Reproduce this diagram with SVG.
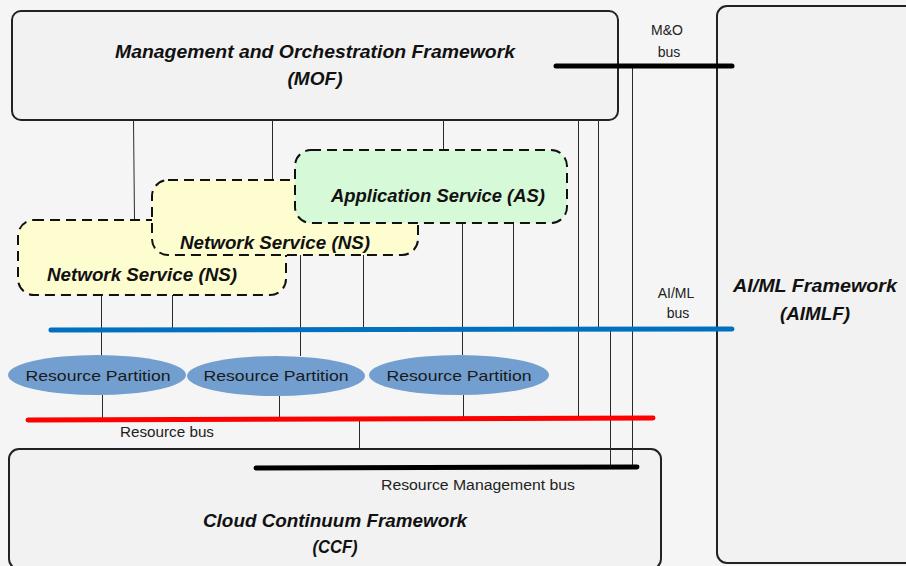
<svg xmlns="http://www.w3.org/2000/svg" width="906" height="566" viewBox="0 0 906 566">
  <style>
    .frame { fill: #f2f2f2; stroke: #222; stroke-width: 2; }
    .svc { stroke: #111; stroke-width: 2; stroke-dasharray: 10 6; }
    .ns { fill: #fefdcf; }
    .as { fill: #d6f9d8; }
    .rp { fill: #729fcf; }
    .title { font-family: "Liberation Sans", Arial, sans-serif; font-weight: bold; font-style: italic; font-size: 18px; fill: #111; text-anchor: middle; }
    .small { font-family: "Liberation Sans", Arial, sans-serif; font-size: 14px; fill: #222; text-anchor: middle; }
    .rptext { font-family: "Liberation Sans", Arial, sans-serif; font-size: 15px; fill: #1a1a1a; text-anchor: middle; }
    .link { stroke: #2a2a2a; stroke-width: 1; fill: none; }
    .bus { stroke-width: 5; stroke-linecap: round; fill: none; }
  </style>
  <rect width="906" height="566" fill="#f5f5f5"/>

  <!-- frameworks -->
  <g id="mof">
    <rect class="frame" x="12" y="11" width="606" height="109" rx="9"/>
    <text class="title" x="315" y="58" textLength="400" lengthAdjust="spacingAndGlyphs">Management and Orchestration Framework</text>
    <text class="title" x="315" y="85" textLength="55" lengthAdjust="spacingAndGlyphs">(MOF)</text>
  </g>
  <g id="aimlf">
    <rect class="frame" x="717" y="6" width="210" height="557" rx="10"/>
    <text class="title" x="815" y="292" textLength="164" lengthAdjust="spacingAndGlyphs">AI/ML Framework</text>
    <text class="title" x="815" y="320" textLength="70" lengthAdjust="spacingAndGlyphs">(AIMLF)</text>
  </g>
  <g id="ccf">
    <rect class="frame" x="9" y="449" width="652" height="120" rx="10"/>
    <text class="title" x="335" y="527" textLength="264" lengthAdjust="spacingAndGlyphs">Cloud Continuum Framework</text>
    <text class="title" x="335" y="553" textLength="45" lengthAdjust="spacingAndGlyphs">(CCF)</text>
  </g>

  <!-- connectors -->
  <g id="connectors">
    <!-- MOF down to services and buses -->
    <line class="link" x1="133.5" y1="120" x2="134.5" y2="220"/>
    <line class="link" x1="272.5" y1="120" x2="272.5" y2="180"/>
    <line class="link" x1="443.5" y1="120" x2="443.5" y2="150"/>
    <line class="link" x1="578.5" y1="120" x2="578.5" y2="419"/>
    <line class="link" x1="598.5" y1="120" x2="598.5" y2="329"/>
    <!-- M&O bus and AI/ML bus down to resource management bus -->
    <line class="link" x1="632.5" y1="66" x2="632.5" y2="467"/>
    <line class="link" x1="610.5" y1="329" x2="610.5" y2="467"/>
    <!-- services down to AI/ML bus and partitions -->
    <line class="link" x1="101.5" y1="295" x2="101.5" y2="356"/>
    <line class="link" x1="172.5" y1="295" x2="172.5" y2="329"/>
    <line class="link" x1="300.5" y1="255" x2="300.5" y2="356"/>
    <line class="link" x1="363.5" y1="255" x2="363.5" y2="329"/>
    <line class="link" x1="462.5" y1="223" x2="462.5" y2="355"/>
    <line class="link" x1="513.5" y1="223" x2="513.5" y2="329"/>
    <!-- partitions down to resource bus -->
    <line class="link" x1="102.5" y1="395" x2="102.5" y2="419"/>
    <line class="link" x1="279.5" y1="396" x2="279.5" y2="419"/>
    <line class="link" x1="463.5" y1="395" x2="463.5" y2="419"/>
    <!-- resource bus down to CCF -->
    <line class="link" x1="359.5" y1="420" x2="359.5" y2="449"/>

    <!-- buses -->
    <line class="bus" x1="556" y1="66" x2="732" y2="66" stroke="#000"/>
    <line class="bus" x1="51" y1="330" x2="732" y2="329" stroke="#0070c0"/>
    <line class="bus" x1="28" y1="420" x2="653" y2="418" stroke="#ff0000"/>
    <line class="bus" x1="256" y1="468" x2="637" y2="467" stroke="#000"/>

    <text class="small" x="667" y="35">M&amp;O</text>
    <text class="small" x="669" y="57">bus</text>
    <text class="small" x="676" y="298">AI/ML</text>
    <text class="small" x="678" y="318">bus</text>
    <text class="small" x="167" y="437" textLength="94" lengthAdjust="spacingAndGlyphs">Resource bus</text>
    <text class="small" x="478" y="490" textLength="194" lengthAdjust="spacingAndGlyphs">Resource Management bus</text>
  </g>

  <!-- services -->
  <g id="ns1">
    <rect class="svc ns" x="18" y="220" width="268" height="75" rx="16"/>
    <text class="title" x="142" y="281" textLength="190" lengthAdjust="spacingAndGlyphs">Network Service (NS)</text>
  </g>
  <g id="ns2">
    <rect class="svc ns" x="152" y="180" width="266" height="75" rx="16"/>
    <text class="title" x="275" y="249" textLength="190" lengthAdjust="spacingAndGlyphs">Network Service (NS)</text>
  </g>
  <g id="as">
    <rect class="svc as" x="295" y="150" width="272" height="73" rx="16"/>
    <text class="title" x="438" y="202" textLength="214" lengthAdjust="spacingAndGlyphs">Application Service (AS)</text>
  </g>

  <!-- resource partitions -->
  <g id="rp1">
    <ellipse class="rp" cx="97" cy="375" rx="89" ry="20"/>
    <text class="rptext" x="98" y="381" textLength="145" lengthAdjust="spacingAndGlyphs">Resource Partition</text>
  </g>
  <g id="rp2">
    <ellipse class="rp" cx="276" cy="376" rx="89" ry="20"/>
    <text class="rptext" x="276" y="381" textLength="145" lengthAdjust="spacingAndGlyphs">Resource Partition</text>
  </g>
  <g id="rp3">
    <ellipse class="rp" cx="459" cy="375" rx="90" ry="20"/>
    <text class="rptext" x="459" y="381" textLength="145" lengthAdjust="spacingAndGlyphs">Resource Partition</text>
  </g>
</svg>
